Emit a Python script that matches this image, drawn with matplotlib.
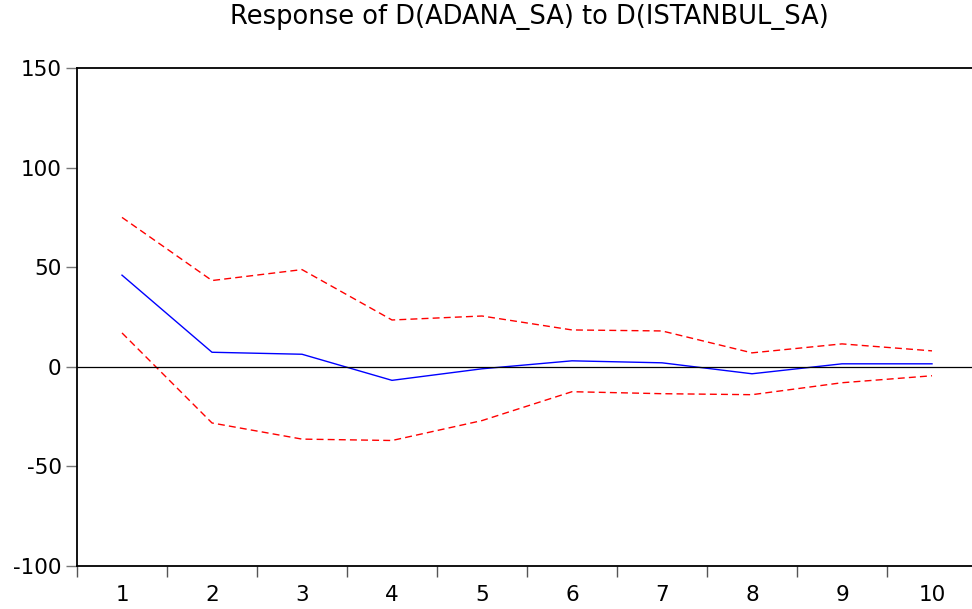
import numpy as np
import matplotlib.pyplot as plt

plt.rcParams['font.family'] = ['DejaVu Sans']
plt.rcParams['axes.unicode_minus'] = False

periods = [1, 2, 3, 4, 5, 6, 7, 8, 9, 10]
response = [46, 7.3, 6.3, -6.8, -1, 3, 2, -3.5, 1.5, 1.5]
upper = [75, 43.3, 48.8, 23.5, 25.5, 18.5, 18, 7, 11.5, 8]
lower = [17, -28.2, -36.3, -37, -27, -12.5, -13.5, -14, -8, -4.5]

fig = plt.figure(figsize=(9.72, 6.09), dpi=100)
ax = fig.add_axes([77/972, 43/609, 900/972, 498/609])

ax.plot(periods, response, color='blue', lw=1)
ax.plot(periods, upper, color='red', lw=1, ls=(0, (5, 3)))
ax.plot(periods, lower, color='red', lw=1, ls=(0, (5, 3)))
ax.axhline(0, color='black', lw=0.9)

ax.set_xlim(0.5, 10.5)
ax.set_ylim(-100, 150)
ax.set_yticks([-100, -50, 0, 50, 100, 150])
ax.set_xticks(periods)
ax.set_xticks(np.arange(0.5, 11, 1), minor=True)
ax.tick_params(axis='x', which='major', length=0, pad=14, labelsize=15.5)
ax.tick_params(axis='x', which='minor', length=8, width=1, color='#555555', direction='out')
ax.tick_params(axis='y', length=8, width=1, color='#777777', labelsize=15.5, pad=3)

ax.spines['right'].set_visible(False)
for s in ['left', 'top', 'bottom']:
    ax.spines[s].set_linewidth(1.3)

fig.text(529/972, 1 - 17/609, 'Response of D(ADANA_SA) to D(ISTANBUL_SA)',
         ha='center', va='center', fontsize=18.5)

fig.savefig('out.png', dpi=100)
